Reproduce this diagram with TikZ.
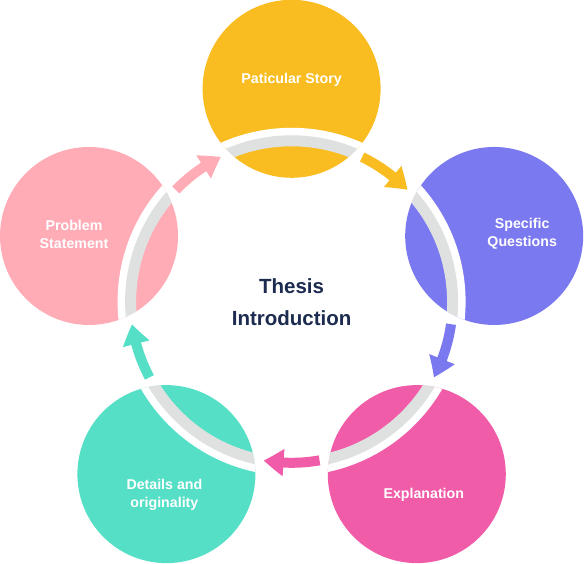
\documentclass[tikz,border=0pt]{standalone}
\usepackage{fontspec}
\setmainfont{Liberation Sans}
\usetikzlibrary{arrows.meta,bending,calc}

\definecolor{storycol}{HTML}{F9BD22}
\definecolor{questcol}{HTML}{7B79EF}
\definecolor{explcol}{HTML}{F05CA8}
\definecolor{detailcol}{HTML}{55DFC6}
\definecolor{probcol}{HTML}{FFACB7}
\definecolor{ringgray}{HTML}{DEE1E0}
\definecolor{navy}{HTML}{1C2B4F}

\tikzset{
    stage/.style={circle, minimum size=178pt, inner sep=0pt, fill=#1},
    stagetext/.style={text=white, font=\bfseries\fontsize{14.2}{18}\selectfont, align=center},
    flow/.style={line width=10pt, draw=#1, -{Triangle[width=26pt,length=20pt,bend]}}
}

\begin{document}
\begin{tikzpicture}[x=1pt,y=1pt]
    \useasboundingbox (-291.6,-262.2) rectangle (292.4,301.8);

    % Draw stages
    \node[stage=storycol] (story) at (90:213) {};
    \node[stage=questcol] (quest) at (18:213) {};
    \node[stage=explcol] (expl) at (-54:213) {};
    \node[stage=detailcol] (detail) at (-126:213) {};
    \node[stage=probcol] (prob) at (162:213) {};

    % Ring through each stage
    \foreach \n in {story,quest,expl,detail,prob} {
        \begin{scope}
            \clip (\n.center) circle (89);
            \draw[white, line width=18pt] (0,0) circle (165);
            \draw[ringgray, line width=11pt] (0,0) circle (161);
        \end{scope}
    }

    % Draw arrows between stages
    \foreach \gap/\col in {54/storycol,-18/questcol,-90/explcol,-162/detailcol,126/probcol} {
        \coordinate (from) at (\gap+10:161);
        \draw[flow=\col] (from) arc[start angle=\gap+10, end angle=\gap-10, radius=161];
    }

    % Labels
    \node[stagetext] at ($(story)+(0,9)$) {Paticular Story};
    \node[stagetext] at ($(quest)+(28,2)$) {Specific\\Questions};
    \node[stagetext] at ($(expl)+(7,-21)$) {Explanation};
    \node[stagetext] at ($(detail)+(-2,-21)$) {Details and\\originality};
    \node[stagetext] at ($(prob)+(-15,2)$) {Problem\\Statement};

    \node[text=navy, font=\bfseries\fontsize{20.5}{32}\selectfont, align=center] (thesis) at (0,0) {Thesis\\Introduction};
\end{tikzpicture}
\end{document}
